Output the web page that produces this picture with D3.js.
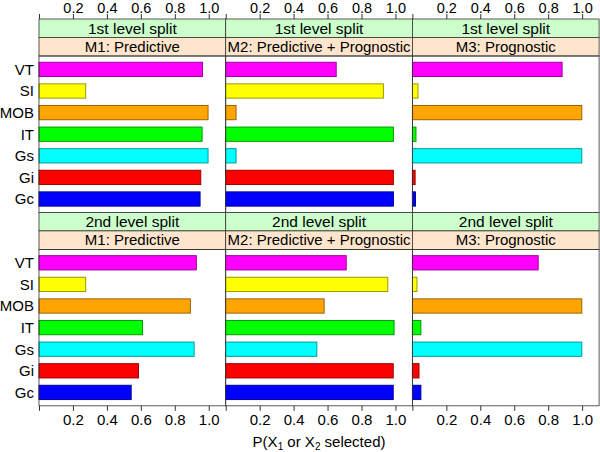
<!DOCTYPE html>
<html>
<head>
<meta charset="utf-8">
<script src="https://d3js.org/d3.v7.min.js"></script>
<style>
  body { margin: 0; background: #fff; }
  text { font-family: "Liberation Sans", Arial, sans-serif; }
</style>
</head>
<body>
<div id="chart"></div>
<script>
// Data
const categories = ["VT", "SI", "MOB", "IT", "Gs", "Gi", "Gc"];
const barColors = ["#ff00ff", "#ffff00", "#ffa500", "#00ff00", "#00ffff", "#ff0000", "#0000ff"];
const models = ["M1: Predictive", "M2: Predictive + Prognostic", "M3: Prognostic"];
const levels = ["1st level split", "2nd level split"];
const tickValues = [0, 0.2, 0.4, 0.6, 0.8, 1.0];

const level1M1 = [0.963, 0.275, 0.996, 0.961, 0.996, 0.953, 0.949];
const level1M2 = [0.651, 0.929, 0.061, 0.988, 0.061, 0.988, 0.988];
const level1M3 = [0.882, 0.033, 0.998, 0.021, 0.998, 0.016, 0.018];
const level2M1 = [0.927, 0.275, 0.892, 0.610, 0.914, 0.586, 0.543];
const level2M2 = [0.710, 0.955, 0.580, 0.992, 0.537, 0.987, 0.987];
const level2M3 = [0.741, 0.027, 0.998, 0.050, 0.998, 0.039, 0.050];

const panelValues = [
    [level1M1, level1M2, level1M3],
    [level2M1, level2M2, level2M3]
];

// Layout
const width = 600;
const height = 452;
const left = 39;
const panelW = 186.7;
const top0 = 19;
const stripH = 18.5;
const panelH = 156.4;
const rowH = 2 * stripH + panelH;

const svg = d3.select("#chart")
    .append("svg")
    .attr("width", width)
    .attr("height", height);

const y = d3.scaleBand()
    .domain(categories)
    .range([0, panelH])
    .paddingInner(0.34)
    .paddingOuter(0.29);

const fmt = d3.format(".1f");

levels.forEach((level, r) => {
    const rowTop = top0 + r * rowH;
    const panelTop = rowTop + 2 * stripH;

    models.forEach((model, c) => {
        const x0 = left + c * panelW;
        const x = d3.scaleLinear().domain([0, 1.1]).range([x0, x0 + panelW]);

        // strips
        svg.append("rect")
            .attr("x", x0).attr("y", rowTop)
            .attr("width", panelW).attr("height", stripH)
            .attr("fill", "#ccffcc").attr("stroke", "#333").attr("stroke-width", 0.8);
        svg.append("text")
            .attr("x", x0 + panelW / 2).attr("y", rowTop + stripH / 2 + 5.3)
            .attr("text-anchor", "middle").attr("font-size", 15.5).attr("fill", "#000")
            .text(level);

        svg.append("rect")
            .attr("x", x0).attr("y", rowTop + stripH)
            .attr("width", panelW).attr("height", stripH)
            .attr("fill", "#ffe5cc").attr("stroke", "#333").attr("stroke-width", 0.8);
        svg.append("text")
            .attr("x", x0 + panelW / 2).attr("y", rowTop + stripH * 1.5 + 5.3)
            .attr("text-anchor", "middle").attr("font-size", 15).attr("fill", "#000")
            .text(model);

        // bars
        const g = svg.append("g").attr("transform", `translate(0,${panelTop})`);
        g.selectAll(".bar")
            .data(panelValues[r][c])
            .enter()
            .append("rect")
            .attr("class", "bar")
            .attr("x", x(0))
            .attr("y", (d, i) => y(categories[i]))
            .attr("width", d => x(d) - x(0))
            .attr("height", y.bandwidth())
            .attr("fill", (d, i) => barColors[i])
            .attr("stroke", (d, i) => d3.color(barColors[i]).darker(1.4))
            .attr("stroke-width", 1);

        // panel border
        svg.append("rect")
            .attr("x", x0).attr("y", panelTop)
            .attr("width", panelW).attr("height", panelH)
            .attr("fill", "none").attr("stroke", "#333").attr("stroke-width", 0.8);

        // axes
        if (r === 0) {
            const ax = svg.append("g")
                .attr("transform", `translate(0,${top0})`)
                .call(d3.axisTop(x).tickValues(tickValues).tickSize(5).tickPadding(1.5).tickSizeOuter(0)
                    .tickFormat(d => d === 0 ? "" : fmt(d)));
            ax.select(".domain").remove();
            ax.selectAll("line").attr("stroke", "#333");
            ax.selectAll("text").attr("font-size", 14.5).attr("font-family", "Liberation Sans, Arial, sans-serif")
                .attr("fill", "#000").attr("dy", "0em");
        } else {
            const ax = svg.append("g")
                .attr("transform", `translate(0,${panelTop + panelH})`)
                .call(d3.axisBottom(x).tickValues(tickValues).tickSize(5).tickSizeOuter(0)
                    .tickFormat(d => d === 0 ? "" : fmt(d)));
            ax.select(".domain").remove();
            ax.selectAll("line").attr("stroke", "#333");
            ax.selectAll("text").attr("font-size", 15).attr("font-family", "Liberation Sans, Arial, sans-serif")
                .attr("fill", "#000").attr("dy", "0.76em");
        }
    });

    // category labels
    svg.append("g").selectAll("text")
        .data(categories)
        .enter()
        .append("text")
        .attr("x", left - 5)
        .attr("y", d => panelTop + y(d) + y.bandwidth() / 2 + 5.3)
        .attr("text-anchor", "end")
        .attr("font-size", 15)
        .attr("fill", "#000")
        .text(d => d);
});

// axis title
const title = svg.append("text")
    .attr("x", left + 1.5 * panelW)
    .attr("y", 447)
    .attr("text-anchor", "middle")
    .attr("font-size", 15)
    .attr("fill", "#000");
title.append("tspan").text("P(X");
title.append("tspan").attr("font-size", 10).attr("dy", 3).text("1");
title.append("tspan").attr("dy", -3).text(" or X");
title.append("tspan").attr("font-size", 10).attr("dy", 3).text("2");
title.append("tspan").attr("dy", -3).text(" selected)");
</script>
</body>
</html>
